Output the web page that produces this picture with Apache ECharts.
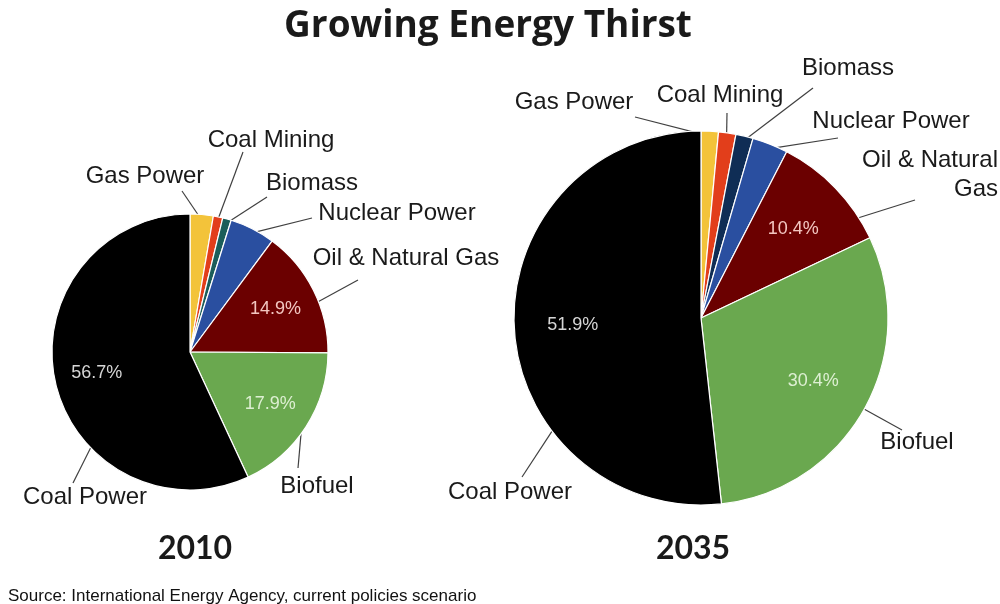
<!DOCTYPE html>
<html><head><meta charset="utf-8">
<script src="https://cdn.jsdelivr.net/npm/echarts@6/dist/echarts.min.js"></script>
<style>html,body{margin:0;padding:0;background:#fff}#c{width:1000px;height:604px}</style>
</head><body><div id="c"></div>
<script>
// ---- data ----
const categories = ['Gas Power', 'Coal Mining', 'Biomass', 'Nuclear Power', 'Oil & Natural Gas', 'Biofuel', 'Coal Power'];
const values2010 = [2.7, 1.1, 1.0, 5.3, 14.9, 17.9, 56.7];
const values2035 = [1.5, 1.5, 1.5, 3.1, 10.4, 30.4, 51.9];
const insideLabelIdx = [4, 5, 6];
const years = ['2010', '2035'];
const titleText = 'Growing Energy Thirst';
const sourceText = 'Source: International Energy Agency, current policies scenario';

// ---- style / layout ----
const baseColors = ['#F3C33A', '#E23E1B', '#1B5E5A', '#2A4FA0', '#6B0000', '#6AA84F', '#000000'];
const insideColors = {4: '#F3C6C0', 5: '#DDEFD2', 6: '#D6D6D6'};
// label placement: [x, y, align, lineEndDx, lineEndDy, anchorFractionInSlice]
const pies = [
  { values: values2010, center: [190, 352], radius: 138, biomass: '#1B5E5A',
    labelPos: [[145,176,'center',37,15,0.5],[271,140,'center',-28,12,0.5],[312,183,'center',-45,14,0.5],
               [397,213,'center',-85,5,0.5],[406,258,'center',-48,22,0.6],[317,486,'center',-19,-18,0.5],[85,497,'center',-12,-14,0.35]],
    labelText: null },
  { values: values2035, center: [701, 318], radius: 187, biomass: '#0F2D55',
    labelPos: [[574,102,'center',61,15,0.5],[720,95,'center',7,18,0.5],[848,68,'center',-35,20,0.5],
               [891,121,'center',-53,17,0.5],[998,175,'right',-83,25,0.8],[917,442,'center',-15,-12,0.5],[510,492,'center',12,-15,0.32]],
    labelText: {4: 'Oil & Natural\nGas'} }
];

function makeLayout(cfg) {
  const total = cfg.values.reduce(function (a, b) { return a + b; }, 0);
  const cum = [0];
  cfg.values.forEach(function (v, i) { cum.push(cum[i] + v); });
  return function (params) {
    const i = params.dataIndex;
    const p = cfg.labelPos[i];
    const res = { x: p[0], y: p[1], align: p[2], verticalAlign: 'middle' };
    const frac = (cum[i] + cfg.values[i] * p[5]) / total;
    const th = frac * Math.PI * 2;
    const R = cfg.radius - 5;
    const s = [cfg.center[0] + R * Math.sin(th), cfg.center[1] - R * Math.cos(th)];
    const e = [p[0] + p[3], p[1] + p[4]];
    res.labelLinePoints = [s, e, e];
    return res;
  };
}

const series = [];
pies.forEach(function (cfg) {
  const colors = baseColors.slice();
  colors[2] = cfg.biomass;
  series.push({
    type: 'pie', center: cfg.center, radius: cfg.radius, startAngle: 90, clockwise: true,
    avoidLabelOverlap: false, silent: true,
    itemStyle: { borderColor: '#ffffff', borderWidth: 1.2 },
    label: {
      show: true, position: 'outside', color: '#1a1a1a', fontFamily: 'Liberation Sans, Arial, sans-serif', fontSize: 24, lineHeight: 29,
      formatter: function (p) { return (cfg.labelText && cfg.labelText[p.dataIndex]) || p.name; }
    },
    labelLine: { show: true, length: 10, length2: 10, lineStyle: { color: '#404040', width: 1.2 } },
    labelLayout: makeLayout(cfg),
    data: categories.map(function (c, i) {
      return { name: c, value: cfg.values[i], itemStyle: { color: colors[i] } };
    })
  });
  series.push({
    type: 'pie', center: cfg.center, radius: [Math.round(cfg.radius * 0.34), cfg.radius], startAngle: 90, clockwise: true,
    avoidLabelOverlap: false, silent: true, z: 3,
    itemStyle: { color: 'rgba(0,0,0,0)', borderWidth: 0 },
    label: {
      show: true, position: 'inside', fontFamily: 'Liberation Sans, Arial, sans-serif', fontSize: 18,
      formatter: function (p) { return insideLabelIdx.indexOf(p.dataIndex) >= 0 ? p.value.toFixed(1) + '%' : ''; }
    },
    labelLine: { show: false },
    data: categories.map(function (c, i) {
      return { name: c, value: cfg.values[i], label: { color: insideColors[i] || '#fff' } };
    })
  });
});

const chart = echarts.init(document.getElementById('c'));
chart.setOption({
  backgroundColor: '#ffffff',
  animation: false,
  title: [
    { text: titleText, left: 483, top: 3, textAlign: 'center', textStyle: { fontFamily: 'Open Sans, sans-serif', fontWeight: 'bold', fontSize: 37, color: '#1a1a1a' } },
    { text: years[0], left: 190, top: 528, textAlign: 'center', textStyle: { fontFamily: 'Lato, sans-serif', fontWeight: 'bold', fontSize: 32, color: '#1a1a1a' } },
    { text: years[1], left: 688, top: 528, textAlign: 'center', textStyle: { fontFamily: 'Lato, sans-serif', fontWeight: 'bold', fontSize: 32, color: '#1a1a1a' } },
    { text: sourceText, left: 3, top: 583, textStyle: { fontFamily: 'Liberation Sans, Arial, sans-serif', fontWeight: 'normal', fontSize: 17, color: '#111' } }
  ],
  series: series
});
</script>
</body></html>
